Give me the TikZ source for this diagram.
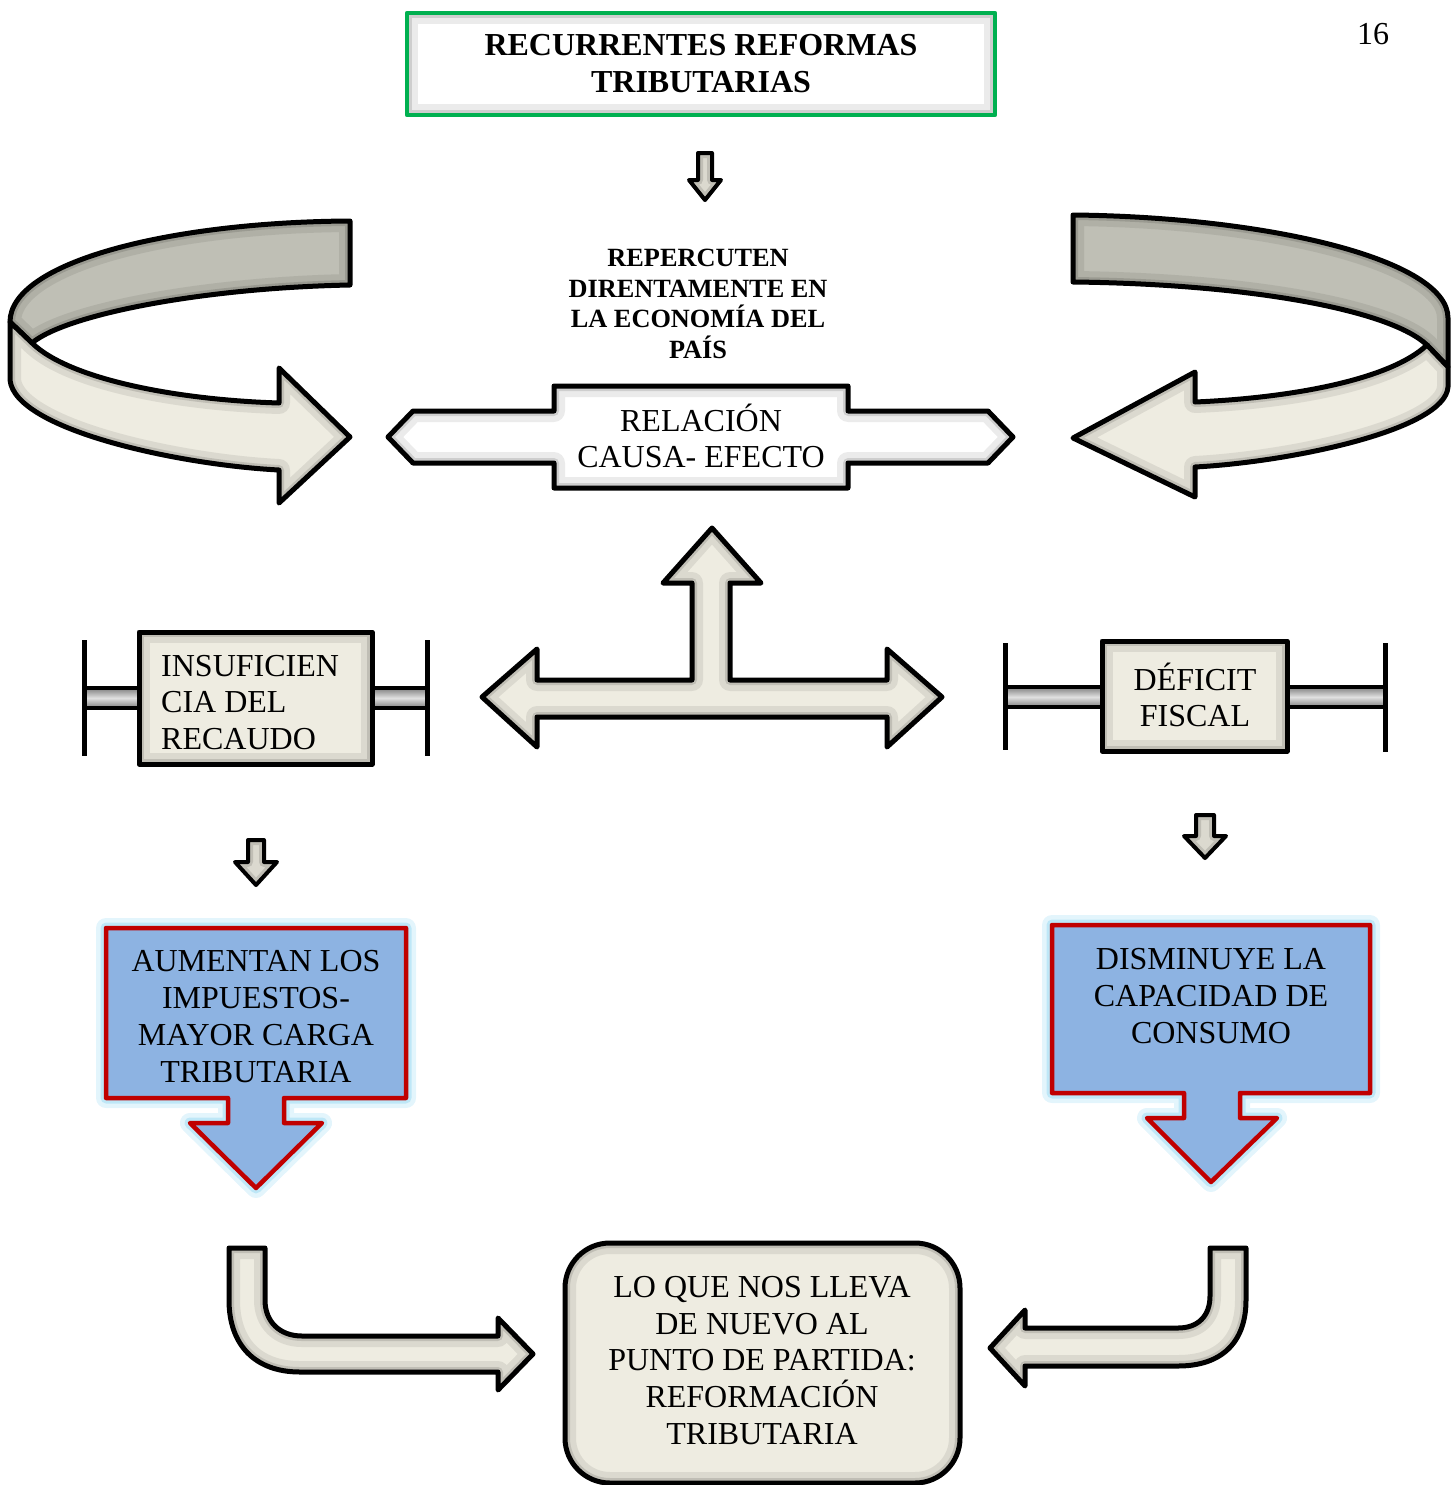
\documentclass[tikz,border=0pt]{standalone}
\usepackage{fontspec}
\setmainfont{Liberation Serif}
\definecolor{creamc}{RGB}{238,236,225}
\definecolor{bandc}{RGB}{191,191,181}
\definecolor{greenc}{RGB}{0,176,80}
\definecolor{redc}{RGB}{192,0,0}
\definecolor{bluec}{RGB}{141,179,226}
\definecolor{glowc}{RGB}{175,225,245}
% fill, inner shadow, outline
\newcommand\shp[3]{%
  \fill[#1] #2;
  \begin{scope}\clip #2;
    \draw[black,opacity=0.08,line width=22] #2;
    \draw[black,opacity=0.12,line width=10] #2;
  \end{scope}
  \draw[#3] #2;}
\newcommand\glowshp[1]{%
  \draw[glowc,opacity=0.35,line width=20,line join=round] #1;
  \draw[glowc,opacity=0.7,line width=11,line join=round] #1;
  \fill[bluec] #1;
  \draw[redc,line width=4.5,line join=round] #1;}
\begin{document}
\begin{tikzpicture}[x=1pt,y=-1pt,line join=round,
  outl/.style={draw=black,line width=5,line join=round},
  thinoutl/.style={draw=black,line width=4,line join=round},
  txt/.style={font=\fontsize{32}{36.8}\selectfont,align=center,inner sep=0pt},
  btxt/.style={font=\fontsize{32}{37}\selectfont\bfseries,align=center,inner sep=0pt},
  stxt/.style={font=\fontsize{26.3}{30.5}\selectfont\bfseries,align=center,inner sep=0pt},
  bandfill/.style={top color=black!50,bottom color=black!50,middle color=black!12}]
\useasboundingbox (0,0) rectangle (1451,1485);

% ---------- title box ----------
\shp{white}{(407,13) rectangle (995,115)}{draw=greenc,line width=4.5}
\node[btxt] (title) at (701,64) {RECURRENTES REFORMAS\\TRIBUTARIAS};
\node[font=\fontsize{32}{36}\selectfont,inner sep=0pt] (page) at (1373,34) {16};

% ---------- small down arrow (top) ----------
\shp{creamc}{(698,153) -- (712,153) -- (712,180) -- (721,180) -- (705,200) -- (689,180) -- (698,180) -- cycle}{thinoutl}

\node[stxt] (reper) at (698,304) {REPERCUTEN\\DIRENTAMENTE EN\\LA ECONOMÍA DEL\\PAÍS};

% ---------- left curved arrow ----------
\shp{bandc}{(350,221) -- (350,285) .. controls (200,288) and (65,315) .. (32,343) -- (10,322) .. controls (10,262) and (170,222) .. (350,221) -- cycle}{outl}
\shp{creamc}{(10,322) -- (32,343) .. controls (70,380) and (180,400) .. (279,403) -- (279,368) -- (350,437) -- (279,503) -- (279,470) .. controls (180,465) and (15,430) .. (10,380) -- cycle}{outl}

% ---------- right curved arrow ----------
\shp{bandc}{(1073,215) -- (1073,282) .. controls (1250,284) and (1390,310) .. (1427,345) -- (1448,367) -- (1448,318) .. controls (1448,260) and (1270,217) .. (1073,215) -- cycle}{outl}
\shp{creamc}{(1427,345) -- (1448,367) -- (1448,387) .. controls (1445,430) and (1290,462) .. (1195,467) -- (1195,497) -- (1073,438) -- (1195,372) -- (1195,402) .. controls (1290,398) and (1390,380) .. (1427,345) -- cycle}{outl}

% ---------- relation box ----------
\shp{white}{(554,386) -- (848,386) -- (848,411) -- (988,411) -- (1013,437) -- (988,463) -- (848,463) -- (848,488) -- (554,488) -- (554,463) -- (413,463) -- (388,437) -- (413,411) -- (554,411) -- cycle}{outl}
\node[txt] (rel) at (701,436) {RELACIÓN\\CAUSA- EFECTO};

% ---------- T arrow ----------
\shp{creamc}{(712,528) -- (761,583) -- (730,583) -- (730,680) -- (887,680) -- (887,649) -- (942,697) -- (887,747) -- (887,717) -- (537,717) -- (537,747) -- (482,697) -- (537,649) -- (537,680) -- (692,680) -- (692,583) -- (663,583) -- cycle}{outl}

% ---------- INSUFICIENCIA ----------
\fill[bandfill] (84,688) rectangle (139,708);
\fill[bandfill] (372,688) rectangle (427,708);
\draw[line width=4] (84,688) -- (139,688) (84,708) -- (139,708);
\draw[line width=4] (372,688) -- (427,688) (372,708) -- (427,708);
\draw[line width=5] (84,640) -- (84,756);
\draw[line width=5] (427,640) -- (427,756);
\shp{creamc}{(139,632) rectangle (372,764)}{outl}
\node[txt,align=left,anchor=west] (insuf) at (161,702.5) {INSUFICIEN\\CIA DEL\\RECAUDO};

% ---------- DEFICIT ----------
\fill[bandfill] (1005,687) rectangle (1102,707);
\fill[bandfill] (1287,687) rectangle (1385,707);
\draw[line width=4] (1005,687) -- (1102,687) (1005,707) -- (1102,707);
\draw[line width=4] (1287,687) -- (1385,687) (1287,707) -- (1385,707);
\draw[line width=5] (1005,643) -- (1005,750);
\draw[line width=5] (1385,643) -- (1385,752);
\shp{creamc}{(1102,641) rectangle (1287,751)}{outl}
\node[txt] (def) at (1195,695) {DÉFICIT\\FISCAL};

% ---------- small down arrows ----------
\shp{creamc}{(248,840) -- (264,840) -- (264,862) -- (277,862) -- (256,885) -- (235,862) -- (248,862) -- cycle}{thinoutl}
\shp{creamc}{(1196,815) -- (1214,815) -- (1214,836) -- (1226,836) -- (1205,858) -- (1184,836) -- (1196,836) -- cycle}{thinoutl}

% ---------- blue callouts ----------
\glowshp{(106,928) -- (406,928) -- (406,1098) -- (284,1098) -- (284,1123) -- (322,1123) -- (256,1188) -- (190,1123) -- (228,1123) -- (228,1098) -- (106,1098) -- cycle}
\node[txt] (aum) at (256,1016.5) {AUMENTAN LOS\\IMPUESTOS-\\MAYOR CARGA\\TRIBUTARIA};
\glowshp{(1052,925) -- (1370,925) -- (1370,1093) -- (1240,1093) -- (1240,1118) -- (1277,1118) -- (1211,1182) -- (1147,1118) -- (1184,1118) -- (1184,1093) -- (1052,1093) -- cycle}
\node[txt] (dis) at (1211,996) {DISMINUYE LA\\CAPACIDAD DE\\CONSUMO};

% ---------- bottom ----------
\shp{creamc}{[rounded corners=45] (565,1243) rectangle (960,1483)}{outl}
\node[txt] (lo) at (762,1360.5) {LO QUE NOS LLEVA\\DE NUEVO AL\\PUNTO DE PARTIDA:\\REFORMACIÓN\\TRIBUTARIA};

\shp{creamc}{(229,1248) -- (265,1248) -- (265,1300) .. controls (265,1322) and (280,1336) .. (302,1336) -- (498,1336) -- (498,1318) -- (533,1354) -- (498,1390) -- (498,1372) -- (300,1372) .. controls (255,1372) and (229,1345) .. (229,1300) -- cycle}{outl}
\shp{creamc}{(1210,1248) -- (1246,1248) -- (1246,1300) .. controls (1246,1342) and (1222,1366) .. (1178,1366) -- (1025,1366) -- (1025,1386) -- (990,1348) -- (1025,1310) -- (1025,1328) -- (1178,1328) .. controls (1198,1328) and (1210,1316) .. (1210,1296) -- cycle}{outl}
\end{tikzpicture}
\end{document}
